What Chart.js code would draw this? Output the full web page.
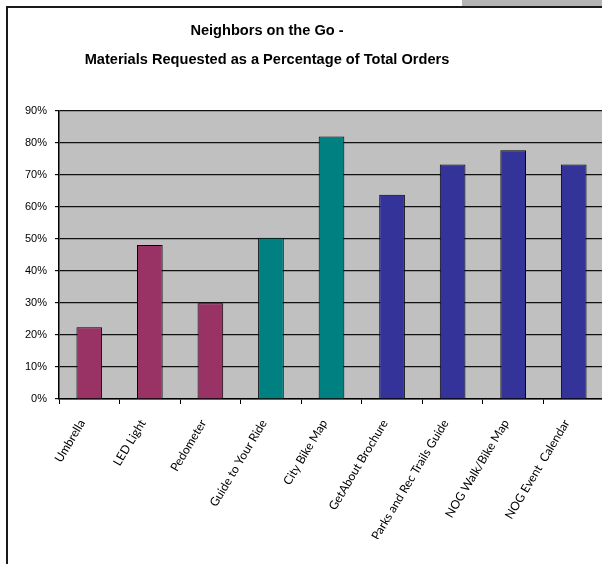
<!DOCTYPE html>
<html>
<head>
<meta charset="utf-8">
<script src="https://cdn.jsdelivr.net/npm/chart.js@4/dist/chart.umd.min.js"></script>
<style>
  html, body { margin: 0; padding: 0; background: #fff; }
  #page { position: relative; width: 602px; height: 564px; overflow: hidden; background: #fff; }
  #tab { position: absolute; left: 462px; top: 0; width: 140px; height: 6px; background: #b4b4b4; }
  #frame { position: absolute; left: 6px; top: 6px; width: 700px; height: 700px;
           border-left: 2px solid #1a1a1a; border-top: 2px solid #1a1a1a; box-sizing: border-box; }
  #title { position: absolute; left: 67px; width: 400px; top: 16px; text-align: center;
           font: bold 14.6px "Liberation Sans", Arial, sans-serif; line-height: 29px; color: #000; }
  #wrap { position: absolute; left: 0; top: 0; width: 640px; height: 564px; }
</style>
</head>
<body>
<div id="page">
  <div id="tab"></div>
  <div id="frame"></div>
  <div id="wrap"><canvas id="c" width="640" height="564"></canvas></div>
  <div id="title">Neighbors on the Go -<br>Materials Requested as a Percentage of Total Orders</div>
</div>
<script>
// Items offered and the share of orders that requested each one
const categories = ["Umbrella", "LED Light", "Pedometer", "Guide to Your Ride", "City Bike Map",
                    "GetAbout Brochure", "Parks and Rec Trails Guide", "NOG Walk/Bike Map", "NOG Event  Calendar"];
const shares = [22.4, 48.1, 29.9, 50.4, 82.0, 63.8, 73.3, 77.7, 73.3];
// Item groups: giveaways, city maps, NOG materials
const groups = ["gift", "gift", "gift", "city", "city", "nog", "nog", "nog", "nog"];
const yTicks = [0, 10, 20, 30, 40, 50, 60, 70, 80, 90];

const groupColor = { gift: "#993366", city: "#008080", nog: "#333399" };

const plotBg = {
  id: "plotBg",
  beforeDraw(chart) {
    const a = chart.chartArea, ctx = chart.ctx;
    ctx.save();
    ctx.fillStyle = "#c0c0c0";
    ctx.fillRect(a.left, a.top, a.right - a.left, a.bottom - a.top);
    ctx.restore();
  }
};

new Chart(document.getElementById("c"), {
  type: "bar",
  data: {
    labels: categories,
    datasets: [{
      data: shares,
      backgroundColor: groups.map(g => groupColor[g]),
      borderColor: "#000",
      borderWidth: 1,
      categoryPercentage: 1,
      barPercentage: 0.424
    }]
  },
  options: {
    responsive: false,
    animation: false,
    devicePixelRatio: 1,
    layout: { padding: { top: 111, right: 36, bottom: 25, left: 0 } },
    plugins: { legend: { display: false }, tooltip: { enabled: false }, title: { display: false } },
    scales: {
      x: {
        afterFit(s) { s.height = 140; },
        grid: { display: true, drawOnChartArea: false, drawTicks: true, tickLength: 5, color: "#000", offset: true },
        border: { display: true, color: "#000", width: 1.5 },
        ticks: {
          color: "#000",
          font: { family: "Lato", size: 12 },
          minRotation: 59, maxRotation: 59,
          autoSkip: false,
          padding: 13,
          labelOffset: -7
        }
      },
      y: {
        min: 0, max: 90,
        afterFit(s) { s.width = 59; },
        afterBuildTicks(s) { s.ticks = yTicks.map(v => ({ value: v })); },
        grid: { color: "#111", lineWidth: 1.2, tickLength: 4, drawTicks: true },
        border: { display: true, color: "#000", width: 1.5 },
        ticks: {
          color: "#000",
          font: { family: "Liberation Sans", size: 11 },
          padding: 8,
          callback: v => v + "%"
        }
      }
    }
  },
  plugins: [plotBg]
});
</script>
</body>
</html>
